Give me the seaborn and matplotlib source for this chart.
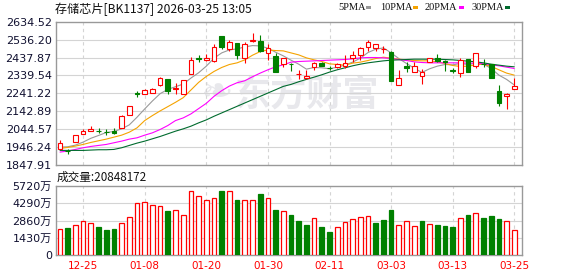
import numpy as np
import pandas as pd
import matplotlib
matplotlib.use("Agg")
import matplotlib.pyplot as plt
from matplotlib.patches import Rectangle
import seaborn as sns

# ---------------- data ----------------
title_text = "存储芯片[BK1137] 2026-03-25 13:05"
volume_label = "成交量:20848172"
ma_names = ["5PMA", "10PMA", "20PMA", "30PMA"]
tick_labels = ["12-25", "01-08", "01-20", "01-30", "02-11", "03-03", "03-13", "03-25"]
price_ticks = [1847.91, 1946.24, 2044.57, 2142.89, 2241.22, 2339.54, 2437.87, 2536.20, 2634.52]
vol_ticks = [0, 1430, 2860, 4290, 5720]
vol_tick_labels = ["0", "1430万", "2860万", "4290万", "5720万"]

opens = [1937, 1926, 1975, 2019, 2034, 2036, 2030, 2036, 2052, 2123,
         2242, 2238, 2243, 2285, 2319, 2265, 2239, 2349, 2433, 2427,
         2421, 2556, 2485, 2516, 2434, 2529, 2529, 2461, 2447, 2402,
         2404, 2346, 2327, 2385, 2407, 2381, 2385, 2389, 2438, 2452,
         2498, 2489, 2484, 2467, 2289, 2389, 2358, 2338, 2416, 2438,
         2417, 2368, 2352, 2429, 2394, 2405, 2401, 2256, 2228, 2265]
highs = [1984, 1937, 2015, 2046, 2063, 2052, 2048, 2052, 2121, 2172,
         2256, 2264, 2270, 2332, 2321, 2298, 2315, 2443, 2451, 2456,
         2511, 2558, 2536, 2518, 2521, 2571, 2560, 2511, 2462, 2436,
         2406, 2370, 2372, 2412, 2416, 2389, 2410, 2449, 2474, 2493,
         2536, 2514, 2503, 2471, 2370, 2416, 2416, 2376, 2437, 2456,
         2425, 2383, 2434, 2431, 2463, 2430, 2403, 2289, 2241, 2325]
lows = [1933, 1910, 1972, 2017, 2033, 2023, 2015, 2019, 2050, 2121,
        2219, 2236, 2241, 2283, 2237, 2239, 2237, 2347, 2416, 2420,
        2416, 2483, 2474, 2429, 2406, 2521, 2467, 2425, 2356, 2385,
        2362, 2321, 2319, 2370, 2392, 2370, 2383, 2380, 2416, 2425,
        2476, 2476, 2461, 2308, 2286, 2358, 2356, 2294, 2414, 2414,
        2365, 2352, 2329, 2359, 2383, 2385, 2323, 2170, 2156, 2263]
closes = [1970, 1924, 2012, 2037, 2043, 2035, 2028, 2026, 2119, 2170,
          2240, 2261, 2265, 2325, 2256, 2270, 2312, 2425, 2431, 2438,
          2498, 2494, 2525, 2449, 2514, 2534, 2471, 2489, 2358, 2434,
          2402, 2348, 2338, 2410, 2394, 2378, 2401, 2410, 2452, 2491,
          2525, 2511, 2486, 2310, 2325, 2382, 2394, 2358, 2434, 2418,
          2415, 2366, 2425, 2361, 2461, 2401, 2325, 2188, 2239, 2283]
volumes = [2155, 2266, 2487, 2819, 2625, 2321, 2100, 2155, 2653, 3123,
           4311, 4394, 4117, 4034, 3648, 3703, 3316, 5278, 4891, 4560,
           4697, 5306, 5306, 4560, 4560, 4560, 5057, 4697, 3730, 3648,
           3316, 2846, 2487, 3040, 2321, 1907, 2321, 2708, 2957, 3123,
           3205, 2653, 2902, 3730, 2459, 2819, 2376, 2819, 2542, 2487,
           2404, 2321, 3040, 3316, 3454, 3067, 3233, 2984, 2819, 2085]

ma5 = [1946.2, 1948.0, 1957.1, 1973.5, 1994.4, 2009.9, 2026.3, 2031.8, 2046.3, 2068.2,
       2110.1, 2155.6, 2199.3, 2239.4, 2263.0, 2277.6, 2292.2, 2325.0, 2354.1, 2390.5,
       2434.2, 2463.3, 2479.7, 2485.2, 2496.1, 2503.4, 2501.6, 2488.8, 2467.0, 2447.0,
       2423.3, 2401.4, 2374.1, 2383.2, 2381.4, 2376.0, 2385.0, 2396.0, 2412.4, 2434.2,
       2465.2, 2483.4, 2490.7, 2463.3, 2432.4, 2405.1, 2379.6, 2355.9, 2376.0, 2390.5,
       2399.6, 2397.8, 2405.1, 2399.6, 2406.9, 2401.4, 2377.8, 2341.3, 2317.7, 2287.0]
ma10 = [1938.9, 1944.4, 1951.7, 1960.8, 1971.7, 1980.8, 1989.9, 2000.8, 2011.7, 2028.1,
        2051.8, 2091.8, 2119.2, 2144.7, 2168.3, 2192.0, 2217.5, 2259.4, 2301.3, 2334.1,
        2361.4, 2383.2, 2399.6, 2408.7, 2425.1, 2450.6, 2470.6, 2479.7, 2476.1, 2474.3,
        2463.3, 2452.4, 2436.0, 2425.1, 2416.0, 2403.3, 2399.6, 2396.0, 2406.9, 2412.4,
        2421.5, 2432.4, 2439.7, 2434.2, 2428.8, 2425.1, 2421.5, 2419.6, 2419.6, 2414.2,
        2405.1, 2394.2, 2388.7, 2390.5, 2397.8, 2401.4, 2388.7, 2370.5, 2352.3, 2341.3]
ma20 = [1918.9, 1924.3, 1933.4, 1942.5, 1949.8, 1955.3, 1960.7, 1969.9, 1979.0, 1989.9,
        1997.2, 2011.7, 2024.5, 2042.7, 2064.5, 2091.8, 2106.4, 2128.3, 2157.4, 2186.5,
        2224.8, 2255.8, 2281.2, 2299.5, 2310.4, 2332.2, 2352.3, 2370.5, 2386.9, 2397.8,
        2412.4, 2416.0, 2417.8, 2419.6, 2421.5, 2423.3, 2425.1, 2426.9, 2430.6, 2436.0,
        2437.9, 2437.9, 2436.0, 2432.4, 2426.9, 2421.5, 2414.2, 2410.5, 2408.7, 2408.7,
        2408.7, 2408.7, 2408.7, 2406.9, 2406.9, 2403.3, 2397.8, 2392.3, 2385.0, 2377.8]
ma30 = [1928.0, 1928.0, 1928.0, 1928.0, 1929.8, 1931.6, 1931.6, 1933.4, 1942.5, 1955.3,
        1968.0, 1978.9, 1991.7, 2004.4, 2019.0, 2033.6, 2046.3, 2060.9, 2079.1, 2095.5,
        2115.5, 2133.7, 2152.0, 2170.2, 2188.4, 2206.6, 2224.8, 2243.0, 2261.2, 2279.4,
        2290.3, 2304.9, 2317.7, 2330.2, 2343.2, 2357.8, 2370.5, 2381.4, 2392.3, 2401.4,
        2408.7, 2414.2, 2419.6, 2423.3, 2425.1, 2426.9, 2428.8, 2428.8, 2428.8, 2428.8,
        2426.9, 2425.1, 2421.5, 2417.8, 2414.2, 2408.7, 2401.4, 2396.0, 2390.5, 2386.9]

# ---------------- style ----------------
sns.set_theme(style="white")
plt.rcParams["font.family"] = ["DejaVu Sans", "Noto Sans CJK SC"]
plt.rcParams["axes.unicode_minus"] = False

RED = "#ff0000"
GREEN = "#008000"
MA_COLORS = ["#999999", "#f5a300", "#ff00ff", "#006b2e"]
GRID = "#d4d4d4"
FRAME = "#999999"
LABEL = "#101030"

n = len(closes)
idx = np.arange(n)
df = pd.DataFrame({"i": idx, "open": opens, "high": highs, "low": lows,
                   "close": closes, "vol": volumes,
                   "MA5": ma5, "MA10": ma10, "MA20": ma20, "MA30": ma30})
prev_close = df["close"].shift(1).fillna(df["open"])
vol_up = df["close"] >= prev_close

W, H = 578, 276
fig = plt.figure(figsize=(W / 100, H / 100), dpi=100)
fig.patch.set_facecolor("white")
ax1 = fig.add_axes([56 / W, 1 - 165 / H, 466 / W, 143.3 / H])
ax2 = fig.add_axes([56 / W, 1 - 255 / H, 466 / W, 69 / H])

xmin, xmax = -0.52, n - 0.0
tick_pos = list(range(3, n, 8))

for ax in (ax1, ax2):
    ax.set_facecolor("white")
    ax.set_xlim(xmin, xmax)
    for s in ax.spines.values():
        s.set_color(FRAME)
        s.set_linewidth(1.0)
    ax.tick_params(length=0, labelsize=8, colors=LABEL, pad=3)
    for t in tick_pos:
        ax.axvline(t, color=GRID, lw=0.8, ls=(0, (3, 3)), zorder=0.5)

# price panel
ax1.set_ylim(price_ticks[0], price_ticks[-1])
ax1.set_yticks(price_ticks)
ax1.set_yticklabels([f"{v:.2f}" for v in price_ticks])
for v in price_ticks[1:-1]:
    ax1.axhline(v, color=GRID, lw=0.8, zorder=0.5)
ax1.set_xticks([])

# watermark (display coords, origin bottom-left)
ax1.text(307, H - 95, "东方财富", transform=None, fontsize=26, fontweight="bold",
         family=["Noto Sans CJK SC"], color="#e8e8ec", ha="center", va="center",
         zorder=0.3)
ax1.text(217, H - 93, "\u2767", transform=None, fontsize=28, family=["DejaVu Sans"],
         color="#e8e8ec", ha="center", va="center", zorder=0.3)

bw = 0.62
for r in df.itertuples():
    up = r.close >= r.open
    col = RED if up else GREEN
    ax1.vlines(r.i, r.low, r.high, color=col, lw=0.8, zorder=3)
    lo, hi = min(r.open, r.close), max(r.open, r.close)
    ax1.add_patch(Rectangle((r.i - bw / 2, lo), bw, max(hi - lo, 0.5),
                            facecolor="white" if up else GREEN,
                            edgecolor=col, lw=0.8, zorder=4))

for name, col in zip(["MA5", "MA10", "MA20", "MA30"], MA_COLORS):
    sns.lineplot(data=df, x="i", y=name, color=col, lw=0.8, ax=ax1,
                 estimator=None, sort=False, zorder=2.5)
ax1.set_xlabel("")
ax1.set_ylabel("")
ax1.set_xlim(xmin, xmax)

# volume panel
ax2.set_ylim(0, vol_ticks[-1])
ax2.set_yticks(vol_ticks)
ax2.set_yticklabels(vol_tick_labels)
for v in vol_ticks[1:-1]:
    ax2.axhline(v, color=GRID, lw=0.8, zorder=0.5)
ax2.bar(df["i"][vol_up], df["vol"][vol_up], width=0.6, facecolor="white",
        edgecolor=RED, lw=0.9, zorder=3)
ax2.bar(df["i"][~vol_up], df["vol"][~vol_up], width=0.6, facecolor=GREEN,
        edgecolor=GREEN, lw=0.9, zorder=3)
ax2.set_xticks(tick_pos)
ax2.set_xticklabels(tick_labels)
ax2.tick_params(axis="x", colors=RED, labelsize=7.5, pad=4.5)
ax2.tick_params(axis="y", colors=LABEL)

# texts
fig.text(55 / W, 1 - 9 / H, title_text, fontsize=8.7, va="center", ha="left",
         color="#111111", family=["Noto Sans CJK SC", "DejaVu Sans"])
fig.text(57 / W, 1 - 177.5 / H, volume_label, fontsize=8.4, va="center", ha="left",
         color="#111111", family=["Noto Sans CJK SC", "DejaVu Sans"])

leg_x = [338, 380, 425, 471]
rect_x = [365.5, 413, 459, 505]
for name, col, tx, rx in zip(ma_names, MA_COLORS, leg_x, rect_x):
    fig.text(tx / W, 1 - 8 / H, name, fontsize=7.5, va="center", ha="left",
             color="#111111", family=["Liberation Serif"])
    fig.patches.append(Rectangle((rx / W, 1 - 9 / H), 5 / W, 3 / H,
                                 transform=fig.transFigure, facecolor=col,
                                 edgecolor="none"))

fig.savefig("out.png", dpi=100, facecolor="white")
